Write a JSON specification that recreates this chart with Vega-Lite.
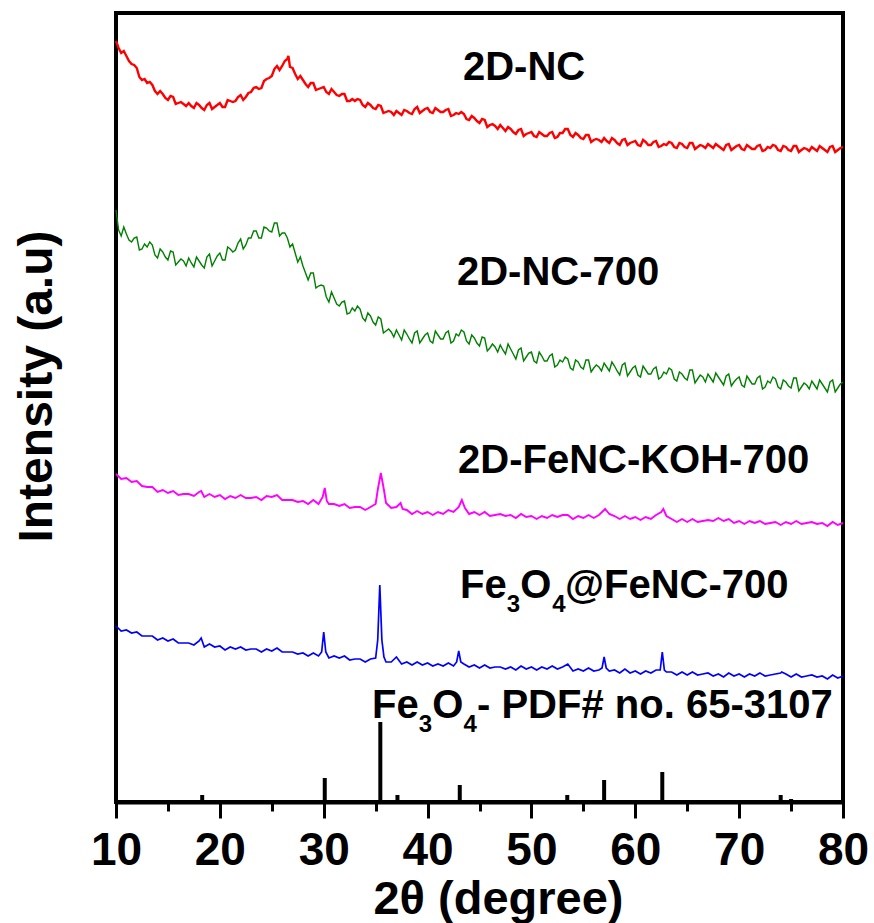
{
"$schema": "https://vega.github.io/schema/vega-lite/v6.json",
"width": 727, "height": 789,
"autosize": "none",
"padding": {"left": 116, "top": 13, "right": 31, "bottom": 121},
"background": "white",
"config": {"view": {"stroke": "black", "strokeWidth": 4}, "font": "Liberation Sans"},
"datasets": {
"nc": [{"x":10,"y":761},{"x":10.5,"y":749},{"x":11,"y":746},{"x":11.5,"y":738},{"x":12,"y":734},{"x":12.5,"y":722},{"x":13,"y":719},{"x":13.5,"y":717},{"x":14,"y":708},{"x":14.5,"y":708},{"x":15,"y":702},{"x":15.5,"y":705},{"x":16,"y":699},{"x":16.5,"y":698},{"x":17,"y":699},{"x":17.5,"y":694},{"x":18,"y":697},{"x":18.5,"y":692},{"x":19,"y":699},{"x":19.5,"y":695},{"x":20,"y":699},{"x":20.5,"y":695},{"x":21,"y":701},{"x":21.5,"y":701},{"x":22,"y":707},{"x":22.5,"y":705},{"x":23,"y":710},{"x":23.5,"y":715},{"x":24,"y":714},{"x":24.5,"y":723},{"x":25,"y":726},{"x":25.5,"y":736},{"x":26,"y":736},{"x":26.5,"y":743},{"x":26.6,"y":746},{"x":27,"y":734},{"x":27.5,"y":723},{"x":28,"y":722},{"x":28.5,"y":715},{"x":29,"y":719},{"x":29.5,"y":713},{"x":30,"y":715},{"x":30.5,"y":708},{"x":31,"y":710},{"x":31.5,"y":706},{"x":32,"y":708},{"x":32.5,"y":701},{"x":33,"y":701},{"x":33.5,"y":702},{"x":34,"y":695},{"x":34.5,"y":697},{"x":35,"y":693},{"x":35.5,"y":696},{"x":36,"y":690},{"x":36.5,"y":690},{"x":37,"y":691},{"x":37.5,"y":687},{"x":38,"y":691},{"x":38.5,"y":688},{"x":39,"y":695},{"x":39.5,"y":691},{"x":40,"y":694},{"x":40.5,"y":689},{"x":41,"y":692},{"x":41.5,"y":690},{"x":42,"y":693},{"x":42.5,"y":687},{"x":43,"y":688},{"x":43.5,"y":688},{"x":44,"y":682},{"x":44.5,"y":684},{"x":45,"y":679},{"x":45.5,"y":682},{"x":46,"y":677},{"x":46.5,"y":676},{"x":47,"y":677},{"x":47.5,"y":671},{"x":48,"y":673},{"x":48.5,"y":668},{"x":49,"y":673},{"x":49.5,"y":668},{"x":50,"y":670},{"x":50.5,"y":665},{"x":51,"y":668},{"x":51.5,"y":666},{"x":52,"y":670},{"x":52.5,"y":665},{"x":53,"y":669},{"x":53.5,"y":673},{"x":54,"y":665},{"x":54.5,"y":667},{"x":55,"y":663},{"x":55.5,"y":667},{"x":56,"y":662},{"x":56.5,"y":662},{"x":57,"y":664},{"x":57.5,"y":659},{"x":58,"y":662},{"x":58.5,"y":657},{"x":59,"y":663},{"x":59.5,"y":659},{"x":60,"y":661},{"x":60.5,"y":656},{"x":61,"y":660},{"x":61.5,"y":657},{"x":62,"y":661},{"x":62.5,"y":656},{"x":63,"y":657},{"x":63.5,"y":659},{"x":64,"y":654},{"x":64.5,"y":658},{"x":65,"y":654},{"x":65.5,"y":659},{"x":66,"y":655},{"x":66.5,"y":656},{"x":67,"y":658},{"x":67.5,"y":654},{"x":68,"y":656},{"x":68.5,"y":652},{"x":69,"y":658},{"x":69.5,"y":654},{"x":70,"y":657},{"x":70.5,"y":652},{"x":71,"y":655},{"x":71.5,"y":653},{"x":72,"y":657},{"x":72.5,"y":652},{"x":73,"y":654},{"x":73.5,"y":656},{"x":74,"y":651},{"x":74.5,"y":655},{"x":75,"y":651},{"x":75.5,"y":656},{"x":76,"y":652},{"x":76.5,"y":653},{"x":77,"y":655},{"x":77.5,"y":651},{"x":78,"y":654},{"x":78.5,"y":650},{"x":79,"y":656},{"x":79.5,"y":652},{"x":80,"y":655},
{"x":10.25,"y":754},{"x":10.75,"y":751},{"x":11.25,"y":741},{"x":11.75,"y":737},{"x":12.25,"y":725},{"x":12.75,"y":723},{"x":13.25,"y":720},{"x":13.75,"y":711},{"x":14.25,"y":711},{"x":14.75,"y":704},{"x":15.25,"y":706},{"x":15.75,"y":698},{"x":16.25,"y":700},{"x":16.75,"y":696},{"x":17.25,"y":696},{"x":17.75,"y":699},{"x":18.25,"y":694},{"x":18.75,"y":697},{"x":19.25,"y":693},{"x":19.75,"y":697},{"x":20.25,"y":695},{"x":20.75,"y":702},{"x":21.25,"y":700},{"x":21.75,"y":705},{"x":22.25,"y":702},{"x":22.75,"y":709},{"x":23.25,"y":714},{"x":23.75,"y":713},{"x":24.25,"y":721},{"x":24.75,"y":724},{"x":25.25,"y":733},{"x":25.75,"y":732},{"x":26.25,"y":741},{"x":26.75,"y":735},{"x":27.25,"y":728},{"x":27.75,"y":726},{"x":28.25,"y":718},{"x":28.75,"y":719},{"x":29.25,"y":712},{"x":29.75,"y":714},{"x":30.25,"y":710},{"x":30.75,"y":713},{"x":31.25,"y":707},{"x":31.75,"y":708},{"x":32.25,"y":701},{"x":32.75,"y":703},{"x":33.25,"y":703},{"x":33.75,"y":697},{"x":34.25,"y":699},{"x":34.75,"y":694},{"x":35.25,"y":697},{"x":35.75,"y":689},{"x":36.25,"y":691},{"x":36.75,"y":687},{"x":37.25,"y":689},{"x":37.75,"y":692},{"x":38.25,"y":689},{"x":38.75,"y":693},{"x":39.25,"y":689},{"x":39.75,"y":693},{"x":40.25,"y":690},{"x":40.75,"y":694},{"x":41.25,"y":690},{"x":41.75,"y":692},{"x":42.25,"y":686},{"x":42.75,"y":689},{"x":43.25,"y":690},{"x":43.75,"y":683},{"x":44.25,"y":686},{"x":44.75,"y":681},{"x":45.25,"y":683},{"x":45.75,"y":675},{"x":46.25,"y":678},{"x":46.75,"y":673},{"x":47.25,"y":674},{"x":47.75,"y":675},{"x":48.25,"y":670},{"x":48.75,"y":672},{"x":49.25,"y":666},{"x":49.75,"y":669},{"x":50.25,"y":666},{"x":50.75,"y":670},{"x":51.25,"y":666},{"x":51.75,"y":669},{"x":52.25,"y":664},{"x":52.75,"y":669},{"x":53.25,"y":673},{"x":53.75,"y":667},{"x":54.25,"y":669},{"x":54.75,"y":664},{"x":55.25,"y":667},{"x":55.75,"y":660},{"x":56.25,"y":663},{"x":56.75,"y":660},{"x":57.25,"y":661},{"x":57.75,"y":664},{"x":58.25,"y":659},{"x":58.75,"y":662},{"x":59.25,"y":657},{"x":59.75,"y":660},{"x":60.25,"y":657},{"x":60.75,"y":662},{"x":61.25,"y":657},{"x":61.75,"y":660},{"x":62.25,"y":655},{"x":62.75,"y":658},{"x":63.25,"y":660},{"x":63.75,"y":655},{"x":64.25,"y":659},{"x":64.75,"y":655},{"x":65.25,"y":659},{"x":65.75,"y":653},{"x":66.25,"y":657},{"x":66.75,"y":654},{"x":67.25,"y":656},{"x":67.75,"y":658},{"x":68.25,"y":654},{"x":68.75,"y":657},{"x":69.25,"y":652},{"x":69.75,"y":656},{"x":70.25,"y":653},{"x":70.75,"y":657},{"x":71.25,"y":653},{"x":71.75,"y":656},{"x":72.25,"y":651},{"x":72.75,"y":655},{"x":73.25,"y":657},{"x":73.75,"y":652},{"x":74.25,"y":656},{"x":74.75,"y":652},{"x":75.25,"y":656},{"x":75.75,"y":650},{"x":76.25,"y":654},{"x":76.75,"y":651},{"x":77.25,"y":653},{"x":77.75,"y":656},{"x":78.25,"y":652},{"x":78.75,"y":655},{"x":79.25,"y":650},{"x":79.75,"y":654}],
"nc700": [{"x":10,"y":592},{"x":10.5,"y":566},{"x":11,"y":568},{"x":11.5,"y":560},{"x":12,"y":565},{"x":12.5,"y":553},{"x":13,"y":555},{"x":13.5,"y":557},{"x":14,"y":544},{"x":14.5,"y":550},{"x":15,"y":542},{"x":15.5,"y":550},{"x":16,"y":540},{"x":16.5,"y":541},{"x":17,"y":544},{"x":17.5,"y":535},{"x":18,"y":541},{"x":18.5,"y":534},{"x":19,"y":548},{"x":19.5,"y":541},{"x":20,"y":549},{"x":20.5,"y":542},{"x":21,"y":553},{"x":21.5,"y":552},{"x":22,"y":563},{"x":22.5,"y":557},{"x":23,"y":564},{"x":23.5,"y":571},{"x":24,"y":564},{"x":24.5,"y":574},{"x":25,"y":570},{"x":25.5,"y":579},{"x":26,"y":569},{"x":26.5,"y":564},{"x":27,"y":558},{"x":27.5,"y":540},{"x":28,"y":536},{"x":28.5,"y":522},{"x":29,"y":529},{"x":29.5,"y":516},{"x":30,"y":516},{"x":30.5,"y":500},{"x":31,"y":504},{"x":31.5,"y":496},{"x":32,"y":501},{"x":32.5,"y":489},{"x":33,"y":491},{"x":33.5,"y":493},{"x":34,"y":481},{"x":34.5,"y":486},{"x":35,"y":477},{"x":35.5,"y":483},{"x":36,"y":471},{"x":36.5,"y":470},{"x":37,"y":472},{"x":37.5,"y":462},{"x":38,"y":468},{"x":38.5,"y":459},{"x":39,"y":471},{"x":39.5,"y":463},{"x":40,"y":469},{"x":40.5,"y":459},{"x":41,"y":467},{"x":41.5,"y":463},{"x":42,"y":471},{"x":42.5,"y":461},{"x":43,"y":466},{"x":43.5,"y":470},{"x":44,"y":458},{"x":44.5,"y":464},{"x":45,"y":456},{"x":45.5,"y":464},{"x":46,"y":454},{"x":46.5,"y":455},{"x":47,"y":457},{"x":47.5,"y":448},{"x":48,"y":453},{"x":48.5,"y":443},{"x":49,"y":454},{"x":49.5,"y":445},{"x":50,"y":450},{"x":50.5,"y":439},{"x":51,"y":446},{"x":51.5,"y":441},{"x":52,"y":448},{"x":52.5,"y":437},{"x":53,"y":440},{"x":53.5,"y":443},{"x":54,"y":432},{"x":54.5,"y":440},{"x":55,"y":433},{"x":55.5,"y":442},{"x":56,"y":434},{"x":56.5,"y":435},{"x":57,"y":439},{"x":57.5,"y":431},{"x":58,"y":436},{"x":58.5,"y":427},{"x":59,"y":439},{"x":59.5,"y":430},{"x":60,"y":436},{"x":60.5,"y":425},{"x":61,"y":432},{"x":61.5,"y":428},{"x":62,"y":435},{"x":62.5,"y":425},{"x":63,"y":428},{"x":63.5,"y":432},{"x":64,"y":421},{"x":64.5,"y":428},{"x":65,"y":422},{"x":65.5,"y":432},{"x":66,"y":423},{"x":66.5,"y":425},{"x":67,"y":428},{"x":67.5,"y":420},{"x":68,"y":425},{"x":68.5,"y":417},{"x":69,"y":428},{"x":69.5,"y":420},{"x":70,"y":425},{"x":70.5,"y":415},{"x":71,"y":422},{"x":71.5,"y":418},{"x":72,"y":426},{"x":72.5,"y":415},{"x":73,"y":419},{"x":73.5,"y":423},{"x":74,"y":413},{"x":74.5,"y":420},{"x":75,"y":414},{"x":75.5,"y":424},{"x":76,"y":415},{"x":76.5,"y":417},{"x":77,"y":421},{"x":77.5,"y":413},{"x":78,"y":418},{"x":78.5,"y":410},{"x":79,"y":422},{"x":79.5,"y":414},{"x":80,"y":420},
{"x":10.25,"y":572},{"x":10.75,"y":575},{"x":11.25,"y":562},{"x":11.75,"y":564},{"x":12.25,"y":552},{"x":12.75,"y":558},{"x":13.25,"y":560},{"x":13.75,"y":547},{"x":14.25,"y":553},{"x":14.75,"y":545},{"x":15.25,"y":551},{"x":15.75,"y":537},{"x":16.25,"y":543},{"x":16.75,"y":536},{"x":17.25,"y":539},{"x":17.75,"y":545},{"x":18.25,"y":537},{"x":18.75,"y":545},{"x":19.25,"y":536},{"x":19.75,"y":546},{"x":20.25,"y":542},{"x":20.75,"y":555},{"x":21.25,"y":550},{"x":21.75,"y":559},{"x":22.25,"y":553},{"x":22.75,"y":564},{"x":23.25,"y":571},{"x":23.75,"y":564},{"x":24.25,"y":575},{"x":24.75,"y":571},{"x":25.25,"y":579},{"x":25.75,"y":566},{"x":26.25,"y":569},{"x":26.75,"y":555},{"x":27.25,"y":549},{"x":27.75,"y":545},{"x":28.25,"y":529},{"x":28.75,"y":529},{"x":29.25,"y":514},{"x":29.75,"y":517},{"x":30.25,"y":505},{"x":30.75,"y":510},{"x":31.25,"y":498},{"x":31.75,"y":500},{"x":32.25,"y":488},{"x":32.75,"y":494},{"x":33.25,"y":496},{"x":33.75,"y":484},{"x":34.25,"y":489},{"x":34.75,"y":480},{"x":35.25,"y":485},{"x":35.75,"y":469},{"x":36.25,"y":473},{"x":36.75,"y":465},{"x":37.25,"y":467},{"x":37.75,"y":472},{"x":38.25,"y":463},{"x":38.75,"y":469},{"x":39.25,"y":459},{"x":39.75,"y":467},{"x":40.25,"y":461},{"x":40.75,"y":471},{"x":41.25,"y":463},{"x":41.75,"y":469},{"x":42.25,"y":459},{"x":42.75,"y":468},{"x":43.25,"y":472},{"x":43.75,"y":461},{"x":44.25,"y":467},{"x":44.75,"y":459},{"x":45.25,"y":465},{"x":45.75,"y":451},{"x":46.25,"y":458},{"x":46.75,"y":450},{"x":47.25,"y":452},{"x":47.75,"y":458},{"x":48.25,"y":448},{"x":48.75,"y":452},{"x":49.25,"y":441},{"x":49.75,"y":449},{"x":50.25,"y":441},{"x":50.75,"y":450},{"x":51.25,"y":441},{"x":51.75,"y":446},{"x":52.25,"y":435},{"x":52.75,"y":442},{"x":53.25,"y":445},{"x":53.75,"y":434},{"x":54.25,"y":442},{"x":54.75,"y":435},{"x":55.25,"y":442},{"x":55.75,"y":430},{"x":56.25,"y":437},{"x":56.75,"y":431},{"x":57.25,"y":435},{"x":57.75,"y":440},{"x":58.25,"y":431},{"x":58.75,"y":437},{"x":59.25,"y":426},{"x":59.75,"y":434},{"x":60.25,"y":427},{"x":60.75,"y":436},{"x":61.25,"y":428},{"x":61.75,"y":433},{"x":62.25,"y":423},{"x":62.75,"y":430},{"x":63.25,"y":434},{"x":63.75,"y":423},{"x":64.25,"y":430},{"x":64.75,"y":424},{"x":65.25,"y":432},{"x":65.75,"y":419},{"x":66.25,"y":427},{"x":66.75,"y":420},{"x":67.25,"y":424},{"x":67.75,"y":429},{"x":68.25,"y":421},{"x":68.75,"y":426},{"x":69.25,"y":416},{"x":69.75,"y":423},{"x":70.25,"y":417},{"x":70.75,"y":426},{"x":71.25,"y":418},{"x":71.75,"y":424},{"x":72.25,"y":413},{"x":72.75,"y":421},{"x":73.25,"y":425},{"x":73.75,"y":415},{"x":74.25,"y":422},{"x":74.75,"y":416},{"x":75.25,"y":424},{"x":75.75,"y":411},{"x":76.25,"y":419},{"x":76.75,"y":413},{"x":77.25,"y":417},{"x":77.75,"y":422},{"x":78.25,"y":414},{"x":78.75,"y":420},{"x":79.25,"y":410},{"x":79.75,"y":418}],
"koh": [{"x":10,"y":328},{"x":10.5,"y":323},{"x":11,"y":324},{"x":11.5,"y":320},{"x":12,"y":321},{"x":12.5,"y":316},{"x":13,"y":315},{"x":13.5,"y":315},{"x":14,"y":310},{"x":14.5,"y":312},{"x":15,"y":309},{"x":15.5,"y":311},{"x":16,"y":307},{"x":16.5,"y":308},{"x":17,"y":308},{"x":17.5,"y":306},{"x":18,"y":310},{"x":18.2,"y":311},{"x":18.5,"y":305},{"x":19,"y":308},{"x":19.5,"y":305},{"x":20,"y":307},{"x":20.5,"y":303},{"x":21,"y":306},{"x":21.5,"y":304},{"x":22,"y":307},{"x":22.5,"y":304},{"x":23,"y":304},{"x":23.5,"y":305},{"x":24,"y":302},{"x":24.5,"y":306},{"x":25,"y":305},{"x":25.5,"y":307},{"x":26,"y":302},{"x":26.5,"y":302},{"x":27,"y":302},{"x":27.5,"y":300},{"x":28,"y":301},{"x":28.5,"y":298},{"x":29,"y":302},{"x":29.5,"y":298},{"x":29.9,"y":305},{"x":30.1,"y":314},{"x":30.3,"y":301},{"x":30.5,"y":298},{"x":31,"y":298},{"x":31.5,"y":296},{"x":32,"y":298},{"x":32.5,"y":294},{"x":33,"y":295},{"x":33.5,"y":295},{"x":34,"y":292},{"x":34.5,"y":295},{"x":35,"y":298},{"x":35.2,"y":312},{"x":35.5,"y":329},{"x":35.8,"y":312},{"x":36,"y":299},{"x":36.5,"y":294},{"x":37,"y":295},{"x":37.4,"y":299},{"x":37.6,"y":293},{"x":38,"y":292},{"x":38.5,"y":288},{"x":39,"y":291},{"x":39.5,"y":288},{"x":40,"y":290},{"x":40.5,"y":287},{"x":41,"y":290},{"x":41.5,"y":288},{"x":42,"y":292},{"x":42.5,"y":290},{"x":43,"y":295},{"x":43.3,"y":302},{"x":43.6,"y":294},{"x":44,"y":288},{"x":44.5,"y":290},{"x":45,"y":287},{"x":45.5,"y":290},{"x":46,"y":286},{"x":46.5,"y":287},{"x":47,"y":288},{"x":47.5,"y":286},{"x":48,"y":287},{"x":48.5,"y":284},{"x":49,"y":288},{"x":49.5,"y":285},{"x":50,"y":286},{"x":50.5,"y":283},{"x":51,"y":286},{"x":51.5,"y":284},{"x":52,"y":287},{"x":52.5,"y":285},{"x":53,"y":287},{"x":53.5,"y":287},{"x":54,"y":283},{"x":54.5,"y":286},{"x":55,"y":284},{"x":55.5,"y":287},{"x":56,"y":284},{"x":56.5,"y":287},{"x":57,"y":292},{"x":57.1,"y":293},{"x":57.5,"y":288},{"x":58,"y":286},{"x":58.5,"y":283},{"x":59,"y":286},{"x":59.5,"y":283},{"x":60,"y":285},{"x":60.5,"y":282},{"x":61,"y":285},{"x":61.5,"y":283},{"x":62,"y":287},{"x":62.5,"y":290},{"x":62.7,"y":293},{"x":63,"y":286},{"x":63.5,"y":283},{"x":64,"y":280},{"x":64.5,"y":283},{"x":65,"y":280},{"x":65.5,"y":283},{"x":66,"y":280},{"x":66.5,"y":281},{"x":67,"y":282},{"x":67.5,"y":281},{"x":68,"y":284},{"x":68.5,"y":281},{"x":69,"y":283},{"x":69.5,"y":279},{"x":70,"y":281},{"x":70.5,"y":278},{"x":71,"y":281},{"x":71.5,"y":279},{"x":72,"y":281},{"x":72.5,"y":278},{"x":73,"y":279},{"x":73.5,"y":280},{"x":74,"y":277},{"x":74.5,"y":280},{"x":75,"y":278},{"x":75.5,"y":281},{"x":76,"y":278},{"x":76.5,"y":279},{"x":77,"y":280},{"x":77.5,"y":278},{"x":78,"y":279},{"x":78.5,"y":276},{"x":79,"y":280},{"x":79.5,"y":277},{"x":80,"y":279}],
"fe": [{"x":10,"y":176},{"x":10.5,"y":171},{"x":11,"y":172},{"x":11.5,"y":169},{"x":12,"y":170},{"x":12.5,"y":166},{"x":13,"y":166},{"x":13.5,"y":166},{"x":14,"y":162},{"x":14.5,"y":164},{"x":15,"y":161},{"x":15.5,"y":163},{"x":16,"y":159},{"x":16.5,"y":159},{"x":17,"y":159},{"x":17.5,"y":157},{"x":18,"y":161},{"x":18.2,"y":164},{"x":18.4,"y":158},{"x":18.5,"y":155},{"x":19,"y":158},{"x":19.5,"y":155},{"x":20,"y":156},{"x":20.5,"y":152},{"x":21,"y":155},{"x":21.5,"y":153},{"x":22,"y":155},{"x":22.5,"y":152},{"x":23,"y":153},{"x":23.5,"y":153},{"x":24,"y":150},{"x":24.5,"y":153},{"x":25,"y":151},{"x":25.5,"y":154},{"x":26,"y":150},{"x":26.5,"y":150},{"x":27,"y":150},{"x":27.5,"y":148},{"x":28,"y":149},{"x":28.5,"y":146},{"x":29,"y":149},{"x":29.5,"y":146},{"x":29.8,"y":150},{"x":30,"y":170},{"x":30.2,"y":150},{"x":30.5,"y":144},{"x":31,"y":146},{"x":31.5,"y":144},{"x":32,"y":146},{"x":32.5,"y":142},{"x":33,"y":143},{"x":33.5,"y":143},{"x":34,"y":140},{"x":34.5,"y":143},{"x":35,"y":144},{"x":35.2,"y":162},{"x":35.4,"y":217},{"x":35.6,"y":162},{"x":35.8,"y":145},{"x":36,"y":140},{"x":36.5,"y":140},{"x":37,"y":145},{"x":37.5,"y":138},{"x":38,"y":140},{"x":38.5,"y":137},{"x":39,"y":140},{"x":39.5,"y":137},{"x":40,"y":139},{"x":40.5,"y":136},{"x":41,"y":138},{"x":41.5,"y":136},{"x":42,"y":139},{"x":42.5,"y":136},{"x":42.8,"y":140},{"x":43,"y":151},{"x":43.2,"y":140},{"x":43.5,"y":138},{"x":44,"y":135},{"x":44.5,"y":137},{"x":45,"y":134},{"x":45.5,"y":137},{"x":46,"y":134},{"x":46.5,"y":135},{"x":47,"y":135},{"x":47.5,"y":133},{"x":48,"y":135},{"x":48.5,"y":132},{"x":49,"y":136},{"x":49.5,"y":133},{"x":50,"y":135},{"x":50.5,"y":132},{"x":51,"y":135},{"x":51.5,"y":133},{"x":52,"y":136},{"x":52.5,"y":133},{"x":53,"y":135},{"x":53.5,"y":138},{"x":54,"y":131},{"x":54.5,"y":133},{"x":55,"y":131},{"x":55.5,"y":134},{"x":56,"y":131},{"x":56.5,"y":132},{"x":56.8,"y":134},{"x":57,"y":145},{"x":57.2,"y":134},{"x":57.5,"y":131},{"x":58,"y":132},{"x":58.5,"y":129},{"x":59,"y":133},{"x":59.5,"y":129},{"x":60,"y":131},{"x":60.5,"y":128},{"x":61,"y":131},{"x":61.5,"y":129},{"x":62,"y":132},{"x":62.4,"y":132},{"x":62.6,"y":150},{"x":62.8,"y":132},{"x":63,"y":130},{"x":63.5,"y":130},{"x":64,"y":127},{"x":64.5,"y":130},{"x":65,"y":127},{"x":65.5,"y":130},{"x":66,"y":127},{"x":66.5,"y":128},{"x":67,"y":129},{"x":67.5,"y":126},{"x":68,"y":128},{"x":68.5,"y":125},{"x":69,"y":129},{"x":69.5,"y":126},{"x":70,"y":128},{"x":70.5,"y":125},{"x":71,"y":128},{"x":71.5,"y":126},{"x":72,"y":129},{"x":72.5,"y":126},{"x":73,"y":127},{"x":73.5,"y":128},{"x":74,"y":129},{"x":74.1,"y":130},{"x":74.5,"y":128},{"x":75,"y":125},{"x":75.5,"y":128},{"x":76,"y":125},{"x":76.5,"y":126},{"x":77,"y":127},{"x":77.5,"y":125},{"x":78,"y":126},{"x":78.5,"y":123},{"x":79,"y":127},{"x":79.5,"y":124},{"x":80,"y":126}],
"ref": [{"x":18.3,"y":7},{"x":30.1,"y":24},{"x":35.45,"y":80},{"x":37.1,"y":7},{"x":43.1,"y":17},{"x":47.2,"y":1},{"x":53.45,"y":7},{"x":57.0,"y":22},{"x":62.6,"y":30},{"x":71.0,"y":2},{"x":74.0,"y":7},{"x":75.0,"y":3},{"x":79.0,"y":2}],
"labels": [{"x":43.41,"y":722,"t":"2D-NC"},{"x":42.83,"y":517,"t":"2D-NC-700"},{"x":42.93,"y":329,"t":"2D-FeNC-KOH-700"},{"x":43.12,"y":204,"t":"Fe"},{"x":48.92,"y":204,"t":"O"},{"x":53.23,"y":204,"t":"@FeNC-700"},{"x":34.65,"y":84,"t":"Fe"},{"x":40.44,"y":84,"t":"O"},{"x":44.76,"y":84,"t":"- PDF# no. 65-3107"}],
"subs": [{"x":47.62,"y":190,"t":"3"},{"x":52.0,"y":190,"t":"4"},{"x":39.15,"y":70,"t":"3"},{"x":43.45,"y":70,"t":"4"}]
},
"encoding": {
"x": {"field": "x", "type": "quantitative",
 "scale": {"domain": [10, 80], "nice": false, "zero": false},
 "axis": {"title": "2θ (degree)", "values": [10,15,20,25,30,35,40,45,50,55,60,65,70,75,80],
  "labelExpr": "datum.value % 10 === 0 ? datum.label : ''",
  "labelFont": "Liberation Sans", "labelFontWeight": "bold", "labelFontSize": 46, "labelColor": "black",
  "labelPadding": 10, "labelFlush": false, "labelOverlap": false,
  "tickSize": {"condition": {"test": "datum.value % 10 === 0", "value": 16}, "value": 9},
  "tickWidth": 3, "tickColor": "black", "domainColor": "black", "domainWidth": 4, "grid": false,
  "titleFont": "Liberation Sans", "titleFontWeight": "bold", "titleFontSize": 47, "titleColor": "black",
  "titleX": 382, "titleY": 111, "titleBaseline": "alphabetic", "titleAlign": "center"}},
"y": {"field": "y", "type": "quantitative",
 "scale": {"domain": [0, 789], "nice": false, "zero": false},
 "axis": {"title": "Intensity (a.u)", "labels": false, "ticks": false, "domain": false, "grid": false,
  "titleFont": "Liberation Sans", "titleFontWeight": "bold", "titleFontSize": 48, "titleColor": "black",
  "titleAngle": -90, "titleX": -65, "titleY": 373, "titleBaseline": "alphabetic", "titleAlign": "center"}}
},
"layer": [
{"data": {"name": "nc"}, "mark": {"type": "line", "color": "#ff0000", "strokeWidth": 2.4}},
{"data": {"name": "nc700"}, "mark": {"type": "line", "color": "#008000", "strokeWidth": 1.4}},
{"data": {"name": "koh"}, "mark": {"type": "line", "color": "#ff00ff", "strokeWidth": 1.9}},
{"data": {"name": "fe"}, "mark": {"type": "line", "color": "#0000ff", "strokeWidth": 1.7}},
{"data": {"name": "ref"}, "mark": {"type": "rule", "color": "black", "strokeWidth": 4}, "encoding": {"y2": {"datum": 0}}},
{"data": {"name": "labels"}, "mark": {"type": "text", "align": "left", "baseline": "alphabetic", "font": "Liberation Sans", "fontWeight": "bold", "fontSize": 40, "color": "black"}, "encoding": {"text": {"field": "t"}}},
{"data": {"name": "subs"}, "mark": {"type": "text", "align": "left", "baseline": "alphabetic", "font": "Liberation Sans", "fontWeight": "bold", "fontSize": 24, "color": "black"}, "encoding": {"text": {"field": "t"}}}
]
}
